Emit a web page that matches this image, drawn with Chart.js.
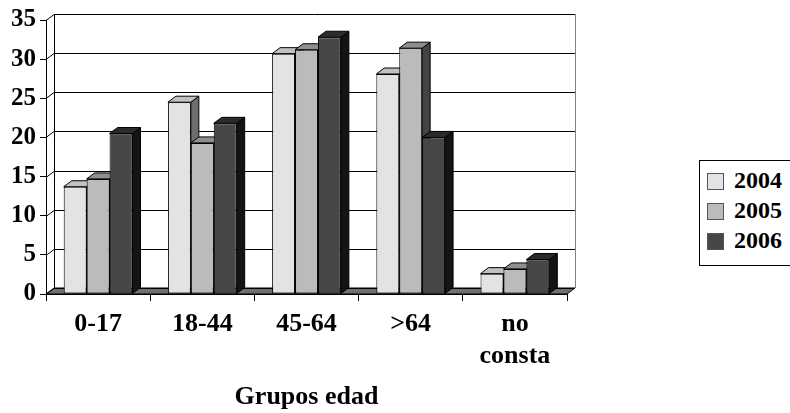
<!DOCTYPE html>
<html>
<head>
<meta charset="utf-8">
<script src="https://cdn.jsdelivr.net/npm/chart.js@4/dist/chart.umd.min.js"></script>
<style>
  html, body { margin: 0; padding: 0; background: #fff; }
  #wrap { position: relative; width: 790px; height: 413px; overflow: hidden; }
  #legend { position: absolute; left: 699px; top: 160px; width: 100px; height: 104px;
            border: 1px solid #000; background: #fff; }
  .item { position: absolute; left: 0; height: 30px; }
  .sw { position: absolute; left: 7px; top: 6px; width: 17px; height: 17px; border: 1px solid #555; box-sizing: border-box; }
  .lbl { position: absolute; left: 34px; top: 0; line-height: 30px;
         font: bold 24px 'Liberation Serif', 'Times New Roman', serif; color: #000; }
</style>
</head>
<body>
<div id="wrap">
  <canvas id="chart" width="790" height="413"></canvas>
  <div id="legend"></div>
</div>
<script>
// datos
var CATEGORIES = ['0-17', '18-44', '45-64', '>64', ['no', 'consta']];
var YEARS = ['2004', '2005', '2006'];
var V2004 = [13.7, 24.5, 30.7, 28.1, 2.6];
var V2005 = [14.7, 19.3, 31.2, 31.4, 3.2];
var V2006 = [20.5, 21.8, 32.8, 20.0, 4.4];
var Y_TICKS = [0, 5, 10, 15, 20, 25, 30, 35];
var X_TITLE = 'Grupos edad';

// colores: cara frontal, cara superior, cara lateral
var FRONT = ['#e3e3e3', '#bbbbbb', '#474747'];
var TOP = ['#c2c2c2', '#8e8e8e', '#2b2b2b'];
var SIDE = ['#6e6e6e', '#444444', '#141414'];
var FLOOR = '#707070';
var FONT = "'Liberation Serif', 'Times New Roman', serif";

var DX = 8, DY = 6; // profundidad 3D

function $(id) { return document.getElementById(id); }

function renderLegend() {
  var box = $('legend');
  YEARS.forEach(function (y, i) {
    var el = document.createElement('div');
    el.className = 'item';
    el.style.top = (6 + i * 30) + 'px';
    el.innerHTML = '<div class="sw" style="background:' + FRONT[i] + '"></div><div class="lbl">' + y + '</div>';
    box.appendChild(el);
  });
}

var wallPlugin = {
  id: 'walls',
  beforeDraw: function (chart) {
    var ctx = chart.ctx, a = chart.chartArea, ys = chart.scales.y;
    var y0 = ys.getPixelForValue(0);
    var yT = ys.getPixelForValue(Y_TICKS[Y_TICKS.length - 1]);
    ctx.save();
    ctx.fillStyle = '#fff';
    ctx.fillRect(0, 0, chart.width, chart.height);

    // suelo
    ctx.beginPath();
    ctx.moveTo(a.left, y0);
    ctx.lineTo(a.right, y0);
    ctx.lineTo(a.right + DX, y0 - DY);
    ctx.lineTo(a.left + DX, y0 - DY);
    ctx.closePath();
    ctx.fillStyle = FLOOR;
    ctx.fill();
    ctx.strokeStyle = '#000';
    ctx.lineWidth = 1;
    ctx.stroke();

    // lineas de division en pared del fondo y pared lateral
    Y_TICKS.forEach(function (v) {
      var py = Math.round(ys.getPixelForValue(v)) + 0.5;
      ctx.beginPath();
      ctx.moveTo(a.left, py);
      ctx.lineTo(a.left + DX, py - DY);
      ctx.lineTo(a.right + DX, py - DY);
      ctx.stroke();
    });

    // bordes de la pared del fondo
    var bx = Math.round(a.left + DX) + 0.5;
    ctx.beginPath();
    ctx.moveTo(bx, yT - DY);
    ctx.lineTo(bx, y0 - DY);
    ctx.stroke();
    var rx = Math.round(a.right + DX) + 0.5;
    ctx.strokeStyle = '#808080';
    ctx.beginPath();
    ctx.moveTo(rx, yT - DY);
    ctx.lineTo(rx, y0 - DY);
    ctx.stroke();
    ctx.restore();
  },
  beforeDatasetsDraw: function (chart) {
    var ctx = chart.ctx;
    ctx.save();
    ctx.strokeStyle = '#000';
    ctx.lineWidth = 1;
    chart.data.datasets.forEach(function (ds, i) {
      var meta = chart.getDatasetMeta(i);
      meta.data.forEach(function (el) {
        var p = el.getProps(['x', 'y', 'base', 'width'], true);
        var L = p.x - p.width / 2, R = p.x + p.width / 2, T = p.y, B = p.base;
        // lateral
        ctx.beginPath();
        ctx.moveTo(R, T);
        ctx.lineTo(R + DX, T - DY);
        ctx.lineTo(R + DX, B - DY);
        ctx.lineTo(R, B);
        ctx.closePath();
        ctx.fillStyle = SIDE[i];
        ctx.fill();
        ctx.stroke();
        // superior
        ctx.beginPath();
        ctx.moveTo(L, T);
        ctx.lineTo(R, T);
        ctx.lineTo(R + DX, T - DY);
        ctx.lineTo(L + DX, T - DY);
        ctx.closePath();
        ctx.fillStyle = TOP[i];
        ctx.fill();
        ctx.stroke();
      });
    });
    ctx.restore();
  }
};

function makeDataset(label, data, i) {
  return {
    label: label,
    data: data,
    backgroundColor: FRONT[i],
    borderColor: '#000',
    borderWidth: 1,
    borderSkipped: false,
    categoryPercentage: 0.66,
    barPercentage: 1.0
  };
}

renderLegend();

new Chart($('chart'), {
  type: 'bar',
  data: {
    labels: CATEGORIES,
    datasets: [
      makeDataset(YEARS[0], V2004, 0),
      makeDataset(YEARS[1], V2005, 1),
      makeDataset(YEARS[2], V2006, 2)
    ]
  },
  options: {
    responsive: false,
    animation: false,
    layout: { padding: { left: 0, top: 20, right: 223, bottom: 0 } },
    plugins: { legend: { display: false }, tooltip: { enabled: false } },
    scales: {
      x: {
        offset: true,
        afterFit: function (s) { s.height = 119; },
        grid: { display: true, drawOnChartArea: false, drawTicks: true, tickLength: 7, offset: true, color: '#000' },
        border: { display: true, color: '#000' },
        ticks: { color: '#000', padding: 8, maxRotation: 0, font: { family: FONT, size: 26, weight: 'bold', lineHeight: 1.2 } },
        title: { display: true, text: X_TITLE, color: '#000', padding: { top: 0, bottom: 0 },
                 font: { family: FONT, size: 26, weight: 'bold' } }
      },
      y: {
        min: 0,
        max: 35,
        afterFit: function (s) { s.width = 46; },
        afterBuildTicks: function (s) { s.ticks = Y_TICKS.map(function (v) { return { value: v }; }); },
        grid: { display: true, drawOnChartArea: false, drawTicks: true, tickLength: 6, color: '#000' },
        border: { display: true, color: '#000' },
        ticks: { color: '#000', padding: 4, font: { family: FONT, size: 25, weight: 'bold' } }
      }
    }
  },
  plugins: [wallPlugin]
});
</script>
</body>
</html>
